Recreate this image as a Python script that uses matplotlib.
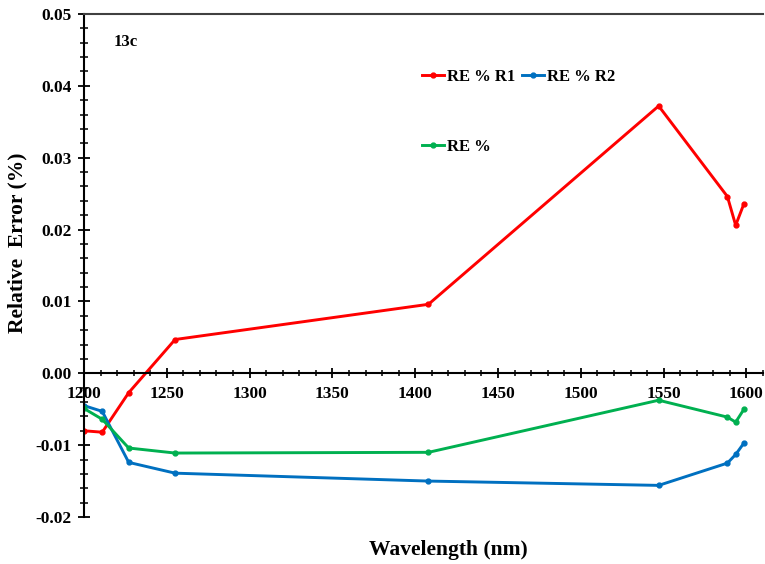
import numpy as np
import matplotlib.pyplot as plt
from matplotlib.ticker import MultipleLocator, FormatStrFormatter

plt.rcParams['font.family'] = ['Liberation Serif', 'DejaVu Serif']
plt.rcParams['font.weight'] = 'bold'

# Data
wavelength = [1200, 1211, 1227, 1255, 1408, 1547, 1588.5, 1593.5, 1598.5]
re_r1 = [-0.0080, -0.0082, -0.0027, 0.0047, 0.0096, 0.0372, 0.0246, 0.0206, 0.0236]
re_r2 = [-0.0045, -0.0053, -0.0124, -0.0139, -0.0150, -0.0156, -0.0125, -0.0113, -0.0097]
re_all = [-0.0049, -0.0064, -0.0104, -0.0111, -0.0110, -0.00375, -0.0061, -0.0068, -0.0050]

fig = plt.figure(figsize=(7.65, 5.64), dpi=100)
ax = fig.add_axes([84 / 765, 1 - 517 / 564, (763 - 84) / 765, (517 - 14) / 564])

l1, = ax.plot(wavelength, re_r1, color='#FF0000', lw=2.1, marker='o', ms=3.5, label='RE % R1')
l2, = ax.plot(wavelength, re_r2, color='#0070C0', lw=2.1, marker='o', ms=3.5, label='RE % R2')
l3, = ax.plot(wavelength, re_all, color='#00B050', lw=2.1, marker='o', ms=3.5, label='RE %')

ax.set_xlim(1200, 1610)
ax.set_ylim(-0.02, 0.05)

# axis crossing at zero
ax.spines['bottom'].set_position(('data', 0))
ax.spines['right'].set_visible(False)
ax.spines['top'].set_color('#404040')
for s in ['left', 'bottom', 'top']:
    ax.spines[s].set_linewidth(1.5)

ax.xaxis.set_major_locator(MultipleLocator(50))
ax.xaxis.set_minor_locator(MultipleLocator(10))
ax.yaxis.set_major_locator(MultipleLocator(0.01))
ax.yaxis.set_minor_locator(MultipleLocator(0.002))
ax.yaxis.set_major_formatter(FormatStrFormatter('%.2f'))

ax.tick_params(axis='x', which='major', direction='inout', length=7, width=1.3, labelsize=12.5, pad=6)
ax.tick_params(axis='x', which='minor', direction='inout', length=5, width=1.1)
ax.tick_params(axis='y', which='major', direction='inout', length=8, width=1.3, labelsize=12.5, pad=5)
ax.tick_params(axis='y', which='minor', direction='inout', length=6, width=1.1)
ax.tick_params(top=False, right=False, which='both')

for lab in ax.get_xticklabels() + ax.get_yticklabels():
    lab.set_fontweight('bold')

ax.set_xlabel('Wavelength (nm)', fontsize=15.5, fontweight='bold')
ax.xaxis.set_label_coords(0.537, -0.045)
ax.set_ylabel('Relative  Error (%)', fontsize=15.5, fontweight='bold')
ax.yaxis.set_label_coords(-0.083, 0.545)

ax.text(0.043, 0.944, '13c', transform=ax.transAxes, fontsize=12, fontweight='bold', va='center')

ax.legend([l1, l3, l2], ['RE % R1', 'RE %', 'RE % R2'], ncol=2, frameon=False,
          loc='upper left', bbox_to_anchor=(0.476, 0.92), handlelength=1.3,
          handletextpad=0.2, columnspacing=0.4, labelspacing=3.2,
          prop={'size': 12, 'weight': 'bold'})

fig.savefig('out.png', dpi=100)
